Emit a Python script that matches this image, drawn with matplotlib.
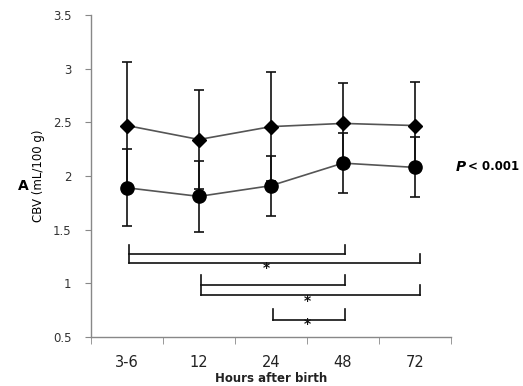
import matplotlib
matplotlib.use("Agg")
import matplotlib.pyplot as plt
import numpy as np

categories = ["3-6", "12", "24", "48", "72"]
diamond_mean = [2.47, 2.34, 2.46, 2.49, 2.47]
diamond_err = [0.59, 0.46, 0.51, 0.38, 0.41]
circle_mean = [1.89, 1.81, 1.91, 2.12, 2.08]
circle_err = [0.36, 0.33, 0.28, 0.28, 0.28]

# significance brackets: (left category, right category of upper arm, right category of lower arm)
brackets = [("3-6", "48", "72"), ("12", "48", "72"), ("24", "48", None)]
bracket_levels = [(1.36, 1.27, 1.19), (1.08, 0.98, 0.89), (0.76, 0.66, None)]
star_pos = [(1.94, 1.14), (2.5, 0.84), (2.5, 0.62)]

fig = plt.figure(figsize=(5.23, 3.86), dpi=100)
ax = fig.add_axes([91/523, 1-337/386, (451-91)/523, (337-15)/386])

x = np.arange(len(categories))
ax.errorbar(x, diamond_mean, yerr=diamond_err, fmt='none', ecolor='#111111',
            elinewidth=1.2, capsize=3.5, capthick=1.2, zorder=2)
ax.errorbar(x, circle_mean, yerr=circle_err, fmt='none', ecolor='#111111',
            elinewidth=1.2, capsize=3.5, capthick=1.2, zorder=2)
ax.plot(x, diamond_mean, color='#555555', lw=1.2, marker='D', ms=7.5,
        mfc='black', mec='black', zorder=3)
ax.plot(x, circle_mean, color='#555555', lw=1.2, marker='o', ms=9.5,
        mfc='black', mec='black', zorder=3)

idx = {c: i for i, c in enumerate(categories)}
for (l, r1, r2), (ytop, y1, y2) in zip(brackets, bracket_levels):
    xl = idx[l] + 0.03
    xr1 = idx[r1] + 0.03
    ybot = y2 if y2 is not None else y1
    ax.plot([xl, xl], [ytop, ybot], color='#111111', lw=1.2)
    ax.plot([xl, xr1], [y1, y1], color='#111111', lw=1.2)
    ax.plot([xr1, xr1], [ytop, y1], color='#111111', lw=1.2)
    if r2 is not None:
        xr2 = idx[r2] + 0.07
        ax.plot([xl, xr2], [y2, y2], color='#111111', lw=1.2)
        ax.plot([xr2, xr2], [y1, y2], color='#111111', lw=1.2)
for sx, sy in star_pos:
    ax.text(sx, sy, "*", ha='center', va='center', fontsize=10, fontweight='bold', color='#111111')

ax.set_xlim(-0.5, 4.5)
ax.set_ylim(0.5, 3.5)
ax.set_yticks([0.5, 1, 1.5, 2, 2.5, 3, 3.5])
ax.set_yticklabels(["0.5", "1", "1.5", "2", "2.5", "3", "3.5"])
ax.set_xticks(x)
ax.set_xticklabels(categories)
ax.set_xticks(np.arange(-0.5, 5, 1), minor=True)
ax.tick_params(axis='x', which='major', length=0, labelsize=10.5, pad=13, colors='#222222')
ax.tick_params(axis='x', which='minor', length=5, color='#888888', direction='out')
ax.tick_params(axis='y', length=4, color='#888888', labelsize=8.5, labelcolor='#333333', pad=10)
for s in ['top', 'right']:
    ax.spines[s].set_visible(False)
for s in ['left', 'bottom']:
    ax.spines[s].set_color('#888888')
    ax.spines[s].set_linewidth(1)

ax.set_ylabel("CBV (mL/100 g)", fontsize=8.5, labelpad=6)
fig.text(271/523, 1-379/386, "Hours after birth", fontsize=8.5, fontweight='bold',
         ha='center', va='center', color='#222222')

fig.text(18/523, 1-186/386, "A", fontsize=10, fontweight='bold', ha='left', va='center')
fig.text(455/523, 1-167/386, "$\\boldsymbol{P}$", fontsize=10, ha='left', va='center',
         family='DejaVu Serif', style='italic', fontweight='bold')
fig.text(468/523, 1-167/386, "< 0.001", fontsize=8.5, ha='left', va='center', fontweight='bold')

fig.savefig("out.png", dpi=100)
